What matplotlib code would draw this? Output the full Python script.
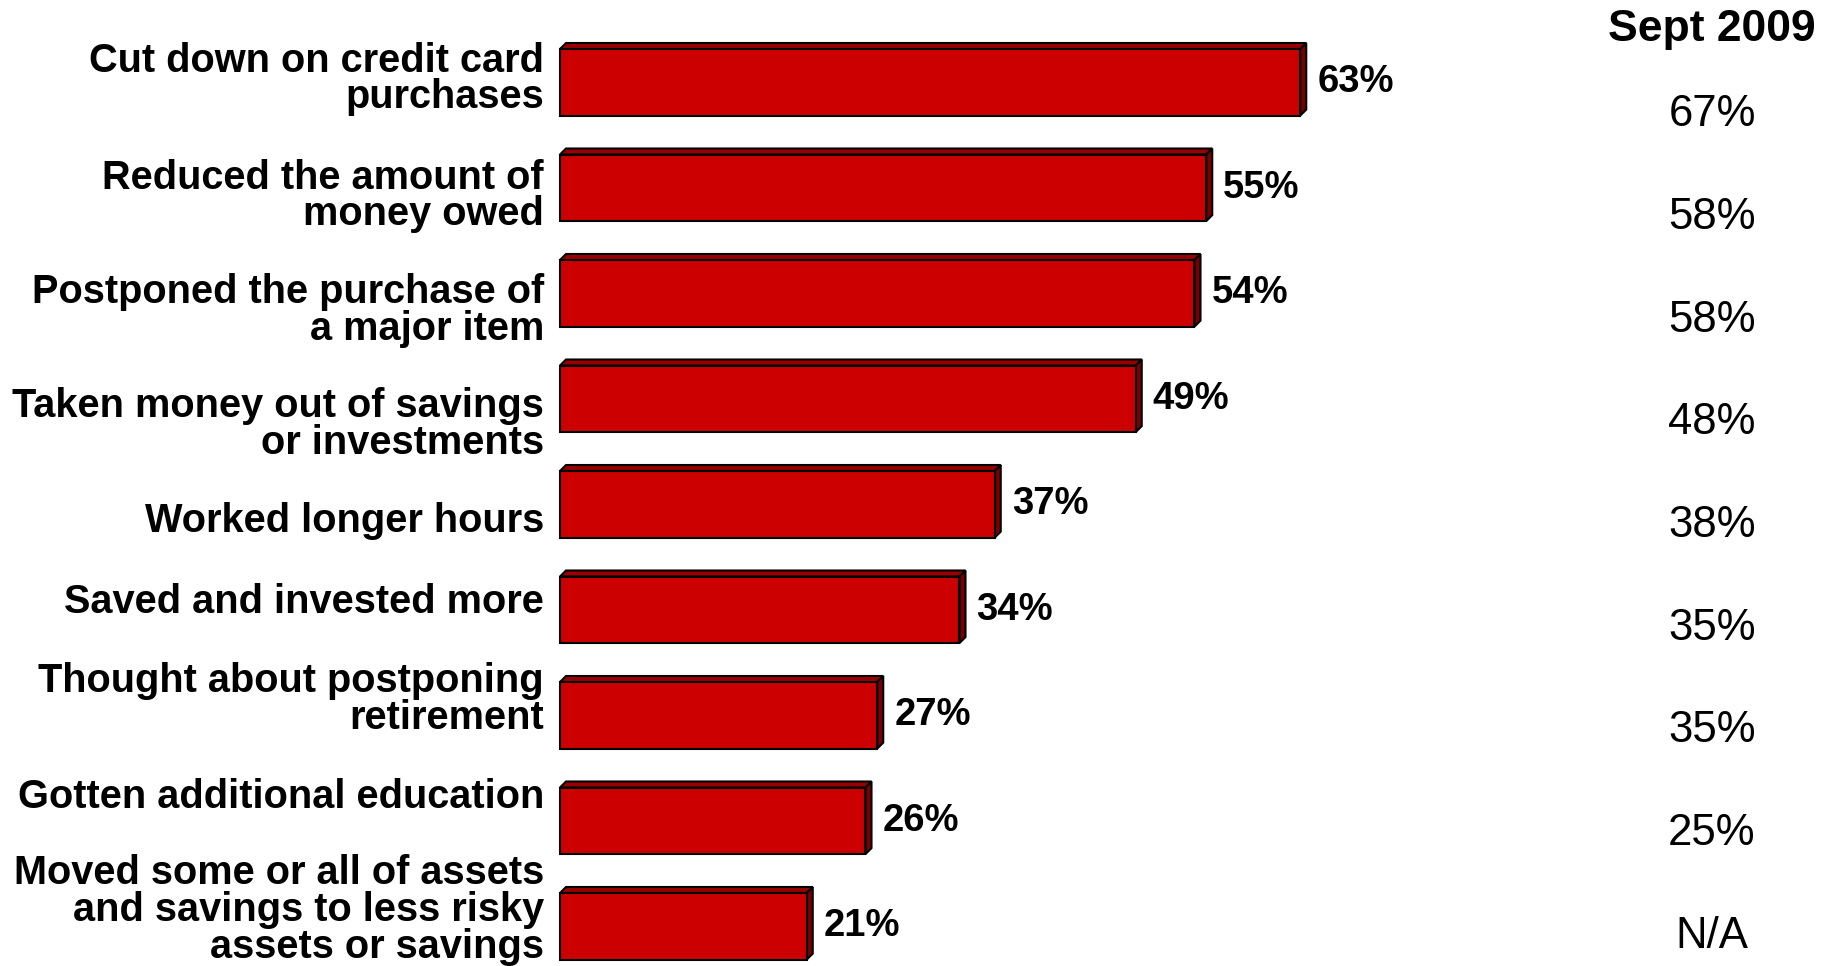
import matplotlib
matplotlib.use("Agg")
import matplotlib.pyplot as plt
from matplotlib.patches import Polygon

plt.rcParams['font.family'] = ['Liberation Sans', 'DejaVu Sans']

# data
categories = [
    "Cut down on credit card\npurchases",
    "Reduced the amount of\nmoney owed",
    "Postponed the purchase of\na major item",
    "Taken money out of savings\nor investments",
    "Worked longer hours",
    "Saved and invested more",
    "Thought about postponing\nretirement",
    "Gotten additional education",
    "Moved some or all of assets\nand savings to less risky\nassets or savings",
]
values_now = [63, 55, 54, 49, 37, 34, 27, 26, 21]
sept_2009 = ["67%", "58%", "58%", "48%", "38%", "35%", "35%", "25%", "N/A"]
sept_title = "Sept 2009"

# layout (pixels of the 1831x966 picture)
W, H = 1831, 966
x0_px, px_per_pct = 560, 11.75
y0_px, step_px = 82.3, 105.5
bar_h_px, depth_px = 66.6, 6.0
label_shift_px = [-3.5, 8.2, 17, 25.7, 17, -8.2, -15.8, -23.4, -16.3]

front, top_col, side_col = "#cc0000", "#9a0000", "#7a0000"

fig = plt.figure(figsize=(W / 100, H / 100), dpi=100)
ax = fig.add_axes([0, 0, 1, 1])
ax.set_xlim(-x0_px / px_per_pct, (W - x0_px) / px_per_pct)
ax.set_ylim((H - y0_px) / step_px, -y0_px / step_px)
ax.axis("off")

bh = bar_h_px / step_px
dx = depth_px / px_per_pct
dy = depth_px / step_px
ys = list(range(len(values_now)))

ax.barh(ys, values_now, height=bh, color=front, edgecolor="black", linewidth=1.5, zorder=3)
for y, v in zip(ys, values_now):
    t = y - bh / 2
    b = y + bh / 2
    # top and side faces for the 3D look
    ax.add_patch(Polygon([(0, t), (dx, t - dy), (v + dx, t - dy), (v, t)],
                         closed=True, facecolor=top_col, edgecolor="black", linewidth=1.5, zorder=2))
    ax.add_patch(Polygon([(v, t), (v + dx, t - dy), (v + dx, b - dy), (v, b)],
                         closed=True, facecolor=side_col, edgecolor="black", linewidth=1.5, zorder=2))
    ax.text(v + dx + 11 / px_per_pct, y, f"{v}%", ha="left", va="center",
            fontsize=27.5, fontweight="bold", color="black")

for y, lab, sh in zip(ys, categories, label_shift_px):
    ax.text(-16 / px_per_pct, y + sh / step_px, lab, ha="right", va="center",
            fontsize=28.6, fontweight="bold", linespacing=0.95, color="black")

col_x = 1712 / W
fig.text(col_x, 1 - 30 / H, sept_title, ha="center", va="center",
         fontsize=32, fontweight="bold", color="black")
for i, s in enumerate(sept_2009):
    fig.text(col_x, 1 - (114.5 + 102.75 * i) / H, s, ha="center", va="center",
             fontsize=31.5, color="black")

fig.savefig("out.png", dpi=100)
